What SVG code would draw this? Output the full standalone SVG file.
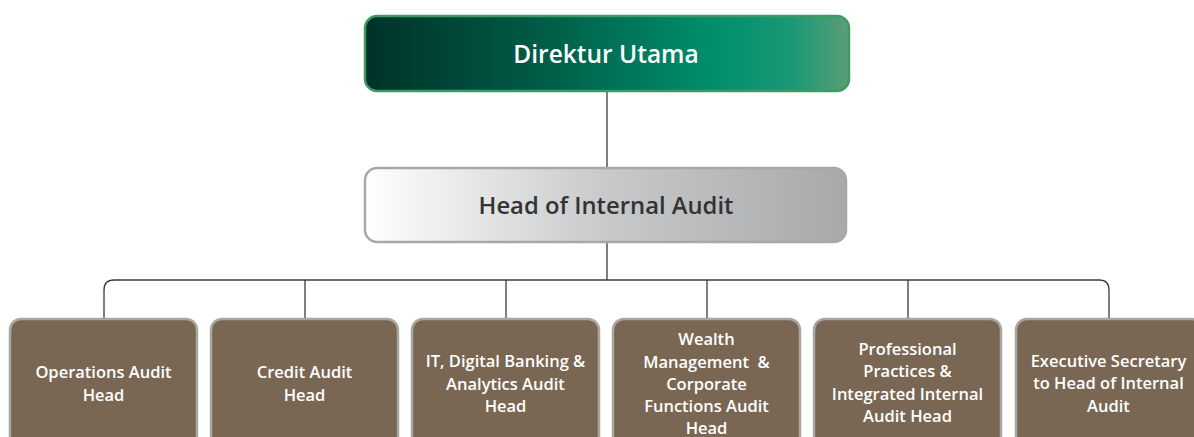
<svg xmlns="http://www.w3.org/2000/svg" width="1194" height="437" viewBox="0 0 1194 437">
<style>
.lbl{font-family:"Open Sans","Noto Sans",sans-serif;font-weight:600;text-anchor:middle}
.sub{fill:#7a6753;stroke:#a9a6a2;stroke-width:2.5}
.subt{font-size:16.5px;fill:#ffffff}
.conn{fill:none;stroke:#3a3a3a;stroke-width:1.3}
</style>
<defs>
<linearGradient id="gGreen" x1="0" y1="0" x2="1" y2="0">
<stop offset="0" stop-color="#00322a"/>
<stop offset="0.35" stop-color="#005a46"/>
<stop offset="0.72" stop-color="#008f6c"/>
<stop offset="0.88" stop-color="#199876"/>
<stop offset="1" stop-color="#5a9e78"/>
</linearGradient>
<linearGradient id="gGrey" x1="0" y1="0" x2="1" y2="0">
<stop offset="0" stop-color="#ffffff"/>
<stop offset="0.5" stop-color="#c8c9cb"/>
<stop offset="1" stop-color="#a9a9ac"/>
</linearGradient>
</defs>
<g id="connectors">
<line class="conn" x1="607" y1="92" x2="607" y2="167"/>
<line class="conn" x1="607" y1="243" x2="607" y2="280"/>
<path class="conn" d="M104 318 V290 Q104 280 114 280 H1099 Q1109 280 1109 290 V318"/>
<line class="conn" x1="305" y1="280" x2="305" y2="318"/>
<line class="conn" x1="506" y1="280" x2="506" y2="318"/>
<line class="conn" x1="707" y1="280" x2="707" y2="318"/>
<line class="conn" x1="908" y1="280" x2="908" y2="318"/>
</g>
<g id="direktur-utama">
<rect x="365" y="16" width="484" height="75" rx="12" fill="url(#gGreen)" stroke="#3f9a62" stroke-width="2.5"/>
<text class="lbl" x="606" y="63" font-size="24.5" fill="#ffffff">Direktur Utama</text>
</g>
<g id="head-internal-audit">
<rect x="365" y="168" width="481" height="74" rx="12" fill="url(#gGrey)" stroke="#a8a8aa" stroke-width="2.5"/>
<text class="lbl" x="606" y="214" font-size="23.8" fill="#333333">Head of Internal Audit</text>
</g>
<g id="operations-audit">
<rect class="sub" x="10" y="319" width="187" height="130" rx="11"/>
<text class="lbl subt" x="103.5" y="378">Operations Audit</text>
<text class="lbl subt" x="103.5" y="401">Head</text>
</g>
<g id="credit-audit">
<rect class="sub" x="211" y="319" width="187" height="130" rx="11"/>
<text class="lbl subt" x="304.5" y="378">Credit Audit</text>
<text class="lbl subt" x="304.5" y="401">Head</text>
</g>
<g id="it-digital-audit">
<rect class="sub" x="412" y="319" width="187" height="130" rx="11"/>
<text class="lbl subt" x="505.5" y="367">IT, Digital Banking &amp;</text>
<text class="lbl subt" x="505.5" y="390">Analytics Audit</text>
<text class="lbl subt" x="505.5" y="412">Head</text>
</g>
<g id="wealth-corporate-audit">
<rect class="sub" x="613" y="319" width="187" height="130" rx="11"/>
<text class="lbl subt" x="706.5" y="345">Wealth</text>
<text class="lbl subt" x="706.5" y="367.5" xml:space="preserve">Management  &amp;</text>
<text class="lbl subt" x="706.5" y="390">Corporate</text>
<text class="lbl subt" x="706.5" y="412">Functions Audit</text>
<text class="lbl subt" x="706.5" y="434">Head</text>
</g>
<g id="professional-practices">
<rect class="sub" x="814" y="319" width="187" height="130" rx="11"/>
<text class="lbl subt" x="907.5" y="355">Professional</text>
<text class="lbl subt" x="907.5" y="377">Practices &amp;</text>
<text class="lbl subt" x="907.5" y="400">Integrated Internal</text>
<text class="lbl subt" x="907.5" y="422">Audit Head</text>
</g>
<g id="executive-secretary">
<rect class="sub" x="1016" y="319" width="187" height="130" rx="11"/>
<text class="lbl subt" x="1108.5" y="367">Executive Secretary</text>
<text class="lbl subt" x="1108.5" y="389">to Head of Internal</text>
<text class="lbl subt" x="1108.5" y="412">Audit</text>
</g>
</svg>
